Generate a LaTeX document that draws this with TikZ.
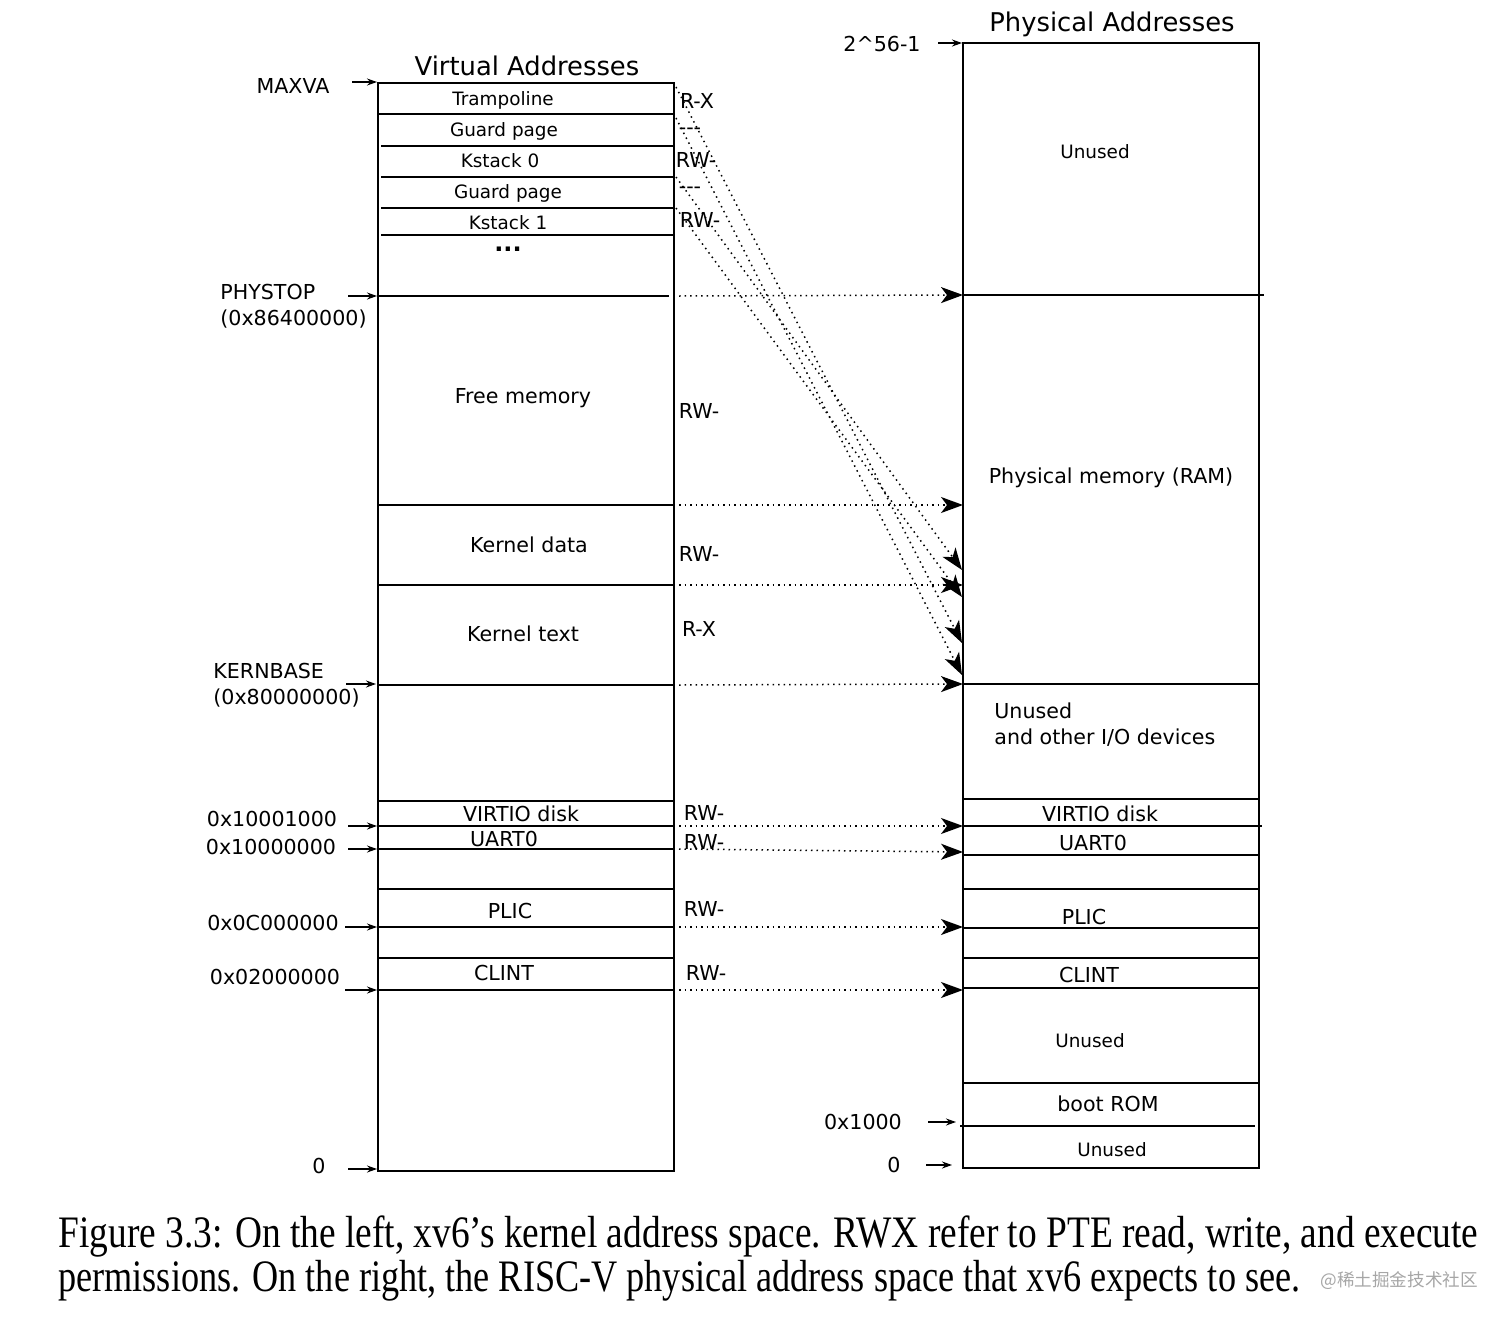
\documentclass[tikz,border=0pt]{standalone}
\usepackage{graphicx}
\usepackage{fontspec}
\setmainfont{DejaVu Sans}
\newfontfamily\capfont{Liberation Serif}
\newfontfamily\cjkfont{Noto Sans CJK SC}
\usetikzlibrary{arrows.meta}

\tikzset{
  box/.style={line width=1.1pt},
  sep/.style={line width=0.8pt},
  lab/.style={font=\fontsize{10.3}{13}\selectfont, inner sep=0pt},
  sml/.style={font=\fontsize{9.2}{11}\selectfont, inner sep=0pt},
  ttl/.style={font=\fontsize{12.9}{15}\selectfont, inner sep=0pt},
  addr/.style={-{Stealth[length=5pt,width=3.5pt]}, line width=0.6pt},
  map/.style={dotted, line width=0.75pt, -{Stealth[length=11pt,width=8pt,inset=3pt]}},
}

\begin{document}
\begin{tikzpicture}[x=0.5pt, y=-0.5pt]
\useasboundingbox (0,0) rectangle (1512,1323);

% Virtual address space
\node[ttl] (vtitle) at (527,66) {Virtual Addresses};
\draw[box] (378,83) rectangle (674,1171);
\foreach \y in {114,505,585,685,801,826,849,889,927,958,990}
    \draw[sep] (378,\y) -- (674,\y);
\foreach \y in {146,177,208,235}
    \draw[sep] (381,\y) -- (675,\y);
\draw[sep] (378,296) -- (669,296);

\foreach \t/\x/\y in {Trampoline/503/100, Guard page/504/131, Kstack 0/500/161,
                      Guard page/508/193, Kstack 1/508/223}
    \node[sml] (v-\y) at (\x,\y) {\t};
\node[anchor=base, inner sep=0pt, font=\fontsize{12}{14}\selectfont\bfseries] (vdots) at (508,251) {...};
\foreach \t/\x/\y in {Free memory/523/398, Kernel data/529/545, Kernel text/523/634,
                      VIRTIO disk/521/814, UART0/504/839, PLIC/510/911, CLINT/504/973}
    \node[lab] (v-\y) at (\x,\y) {\t};

% Permissions
\foreach \t/\x/\y in {R-X/697/101, -{}-{}-/690/131, RW-/696/160, -{}-{}-/690/190, RW-/700/220,
                      RW-/699/411, RW-/699/554, R-X/699/629, RW-/704/813, RW-/704/842,
                      RW-/704/909, RW-/706/973}
    \node[lab] (perm-\y) at (\x,\y) {\t};

% Virtual addresses on the left
\foreach \t/\lx/\ly/\ax/\ay in {MAXVA/293/86/352/82, 0x10001000/272/819/348/826,
                                0x10000000/271/847/348/849, 0x0C000000/273/923/345/927,
                                0x02000000/275/977/345/990, 0/319/1166/348/1169} {
    \node[lab] (a-\ly) at (\lx,\ly) {\t};
    \coordinate (as-\ly) at (\ax,\ay);
    \coordinate (ae-\ly) at (377,\ay);
    \draw[addr] (as-\ly) -- (ae-\ly);
}
\node[lab, anchor=west, align=left] (physt) at (220,306) {PHYSTOP\\(0x86400000)};
\coordinate (physt-s) at (348,296);
\coordinate (physt-e) at (377,296);
\draw[addr] (physt-s) -- (physt-e);
\node[lab, anchor=west, align=left] (kbase) at (213,685) {KERNBASE\\(0x80000000)};
\coordinate (kbase-s) at (346,684);
\coordinate (kbase-e) at (376,684);
\draw[addr] (kbase-s) -- (kbase-e);

% Physical address space
\node[ttl] (ptitle) at (1112,24) {Physical Addresses};
\draw[box] (963,43) rectangle (1259,1168);
\foreach \y in {684,799,855,889,928,958,988,1083}
    \draw[sep] (963,\y) -- (1259,\y);
\draw[sep] (963,295) -- (1264,295);
\draw[sep] (963,826) -- (1262,826);
\draw[sep] (960,1126) -- (1255,1126);

\foreach \t/\x/\y in {Unused/1095/152, Unused/1090/1041, Unused/1112/1150}
    \node[sml] (p-\y) at (\x,\y) {\t};
\foreach \t/\x/\y in {Physical memory (RAM)/1111/478, VIRTIO disk/1100/814, UART0/1093/843,
                      PLIC/1084/917, CLINT/1089/975, boot ROM/1108/1104}
    \node[lab] (p-\y) at (\x,\y) {\t};
\node[lab, anchor=west, align=left] (pio) at (994,725) {Unused\\and other I/O devices};

% Physical addresses on the left
\foreach \t/\lx/\ly/\ax/\ex/\ay in {2\textasciicircum 56-1/882/44/938/962/43,
                                    0x1000/863/1122/928/956/1122, 0/894/1165/926/952/1165} {
    \node[lab] (b-\ly) at (\lx,\ly) {\t};
    \coordinate (bs-\ly) at (\ax,\ay);
    \coordinate (be-\ly) at (\ex,\ay);
    \draw[addr] (bs-\ly) -- (be-\ly);
}

% Direct mappings
\foreach \n/\a/\b in {physt/296/295, free/505/505, kdata/585/585, kbase/685/684,
                      virtio/826/826, uart/849/852, plic/927/927, clint/990/990} {
    \coordinate (m-\n) at (679,\a);
    \coordinate (r-\n) at (963,\b);
    \draw[map] (m-\n) -- (r-\n);
}

% Trampoline and kernel stacks
\foreach \i/\a/\b in {1/87/643, 2/118/675, 3/177/570, 4/208/597} {
    \coordinate (k-\i) at (676,\a);
    \coordinate (ram-\i) at (962,\b);
    \draw[map] (k-\i) -- (ram-\i);
}

% Caption
\node[anchor=west, inner sep=0pt] (cap1) at (58,1237)
    {\capfont\fontsize{22.5}{26}\selectfont\resizebox{710pt}{\height}{Figure 3.3: On the left, xv6’s kernel address space. RWX refer to PTE read, write, and execute}};
\node[anchor=west, inner sep=0pt] (cap2) at (58,1281)
    {\capfont\fontsize{22.5}{26}\selectfont\resizebox{621pt}{\height}{permissions. On the right, the RISC-V physical address space that xv6 expects to see.}};
\node[anchor=west, inner sep=0pt, text=gray!70, font=\cjkfont\fontsize{8.8}{10}\selectfont] (mark) at (1320,1281) {@稀土掘金技术社区};
\end{tikzpicture}
\end{document}
